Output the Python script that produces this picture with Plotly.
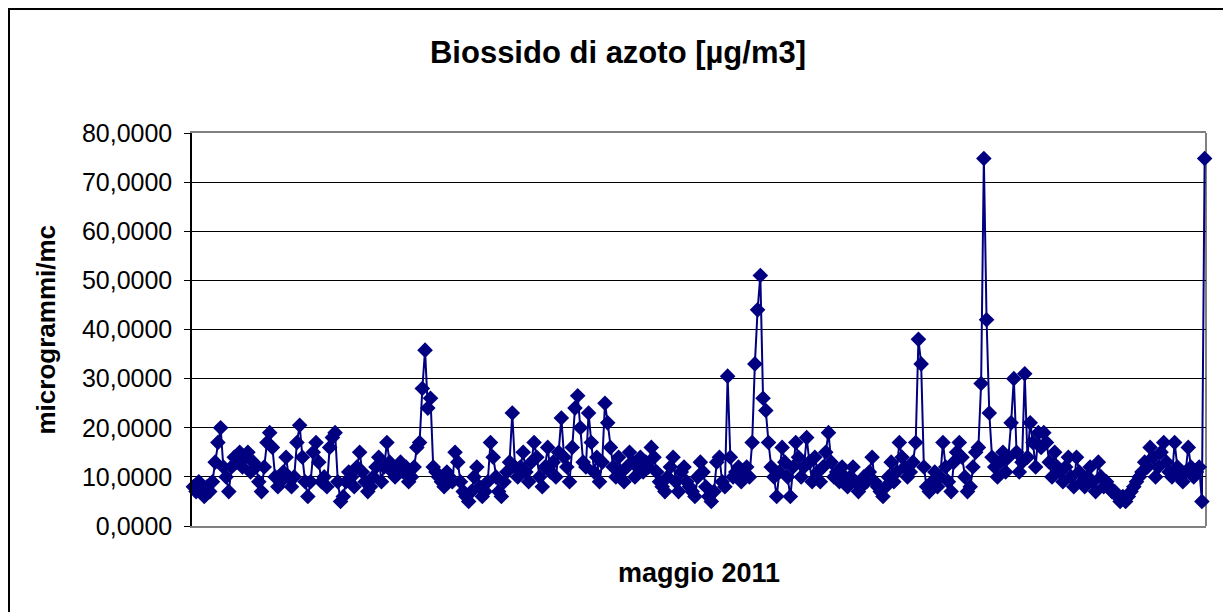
import plotly.graph_objects as go

# NO2 readings, May 2011 (every 2 hours)
week1 = [8, 7, 9, 7, 6, 8, 7, 9, 13, 17, 20, 12,
         10, 7, 12, 14, 13, 15, 12, 14, 15, 11, 13, 12,
         9, 7, 12, 17, 19, 16, 10, 8, 9, 11, 14, 10,
         8, 10, 17, 20.5, 14, 9, 6, 9, 15, 17, 13, 9,
         10, 8, 16, 18, 19, 9, 5, 6, 9, 11, 10, 8,
         12, 15, 11, 9, 7, 8, 10, 12, 14, 9, 12, 17,
         13, 11, 10, 12, 13, 11, 12, 9, 10, 12, 16, 17]
week2 = [28, 35.8, 24, 26, 12, 11, 10, 9, 8, 11, 10, 9,
         15, 13, 9, 7, 6, 5, 7, 10, 12, 8, 6, 7,
         9, 17, 14, 10, 7, 6, 9, 11, 13, 23, 12, 10,
         12, 15, 11, 9, 13, 17, 14, 10, 8, 12, 16, 11,
         13, 10, 15, 22, 14, 12, 9, 16, 24, 26.5, 20, 13,
         12, 23, 17, 11, 14, 9, 13, 25, 21, 16, 12, 10,
         14, 11, 9, 12, 15, 13, 10, 12, 14, 11, 13, 12]
week3 = [16, 14, 11, 9, 8, 7, 10, 12, 14, 9, 7, 11,
         12, 9, 8, 7, 6, 10, 13, 11, 8, 6, 5, 7,
         13, 14, 9, 8, 30.5, 14, 10, 11, 12, 9, 10, 12,
         10, 17, 33, 44, 51, 26, 23.5, 17, 12, 10, 6, 11,
         16, 13, 10, 6, 12, 17, 14, 10, 12, 18, 13, 9,
         14, 11, 9, 12, 15, 19, 13, 10, 11, 9, 12, 10,
         8, 10, 12, 9, 7, 8, 10, 9, 11, 14, 9, 8]
week4 = [7, 6, 8, 10, 13, 9, 11, 17, 14, 12, 10, 11,
         13, 17, 38, 33, 12, 8, 7, 9, 11, 8, 10, 17,
         12, 9, 7, 13, 15, 17, 14, 10, 7, 8, 12, 15,
         16, 29, 74.8, 42, 23, 14, 12, 10, 13, 15, 11, 14,
         21, 30, 15, 11, 13, 31, 14, 21, 17, 12, 19, 16,
         19, 17, 13, 10, 15, 12, 11, 9, 12, 14, 10, 8,
         14, 11, 9, 8, 10, 12, 9, 7, 13, 10, 8, 9]
week5 = [8, 7, 7, 6, 5, 6, 5, 6, 7, 8, 9, 10,
         11, 13, 12, 16, 14, 10, 12, 15, 17, 13, 11, 10,
         17, 12, 10, 9, 11, 16, 12, 10, 11, 12, 5, 74.8]

values = week1 + week2 + week3 + week4 + week5
hours = list(range(len(values)))

title_text = "Biossido di azoto [µg/m3]"
y_title = "microgrammi/mc"
x_title = "maggio 2011"
navy = "#000080"

W, H = 1223, 612
L, R, T, B = 192, 1206, 133, 526
pw, ph = R - L, B - T

fig = go.Figure()
fig.add_trace(go.Scatter(
    x=hours, y=values, mode="lines+markers",
    line=dict(color=navy, width=2),
    marker=dict(symbol="diamond", size=12, color=navy),
    cliponaxis=False, showlegend=False,
))

font_family = "Liberation Sans, Arial, sans-serif"

fig.update_layout(
    width=W, height=H,
    margin=dict(l=L, r=W - R, t=T, b=H - B, autoexpand=False),
    paper_bgcolor="white", plot_bgcolor="white",
    separators=",.",
    font=dict(family=font_family, color="black", size=18),
    title=dict(text=f"<b>{title_text}</b>", x=618 / W, xref="container",
               xanchor="center", y=1 - 52 / H, yref="container", yanchor="middle",
               font=dict(size=31, family=font_family)),
    xaxis=dict(range=[-0.5, len(values) - 0.5], showticklabels=False, ticks="",
               showgrid=False, zeroline=False, showline=True, linecolor="#808080",
               linewidth=2, mirror=True),
    yaxis=dict(range=[0, 80], dtick=10, tickformat=".4f", ticks="outside", ticklen=6,
               tickcolor="black", showline=True, linecolor="black", linewidth=1.5,
               showgrid=True, gridcolor="black", gridwidth=1, zeroline=False,
               ticklabelstandoff=7, automargin=False,
               tickfont=dict(size=25)),
    annotations=[
        dict(text=f"<b>{x_title}</b>", xref="paper", yref="paper",
             x=0.5, y=-(573 - B) / ph, xanchor="center", yanchor="middle",
             showarrow=False, font=dict(size=27)),
        dict(text=f"<b>{y_title}</b>", xref="paper", yref="paper",
             x=-(L - 45) / pw, y=0.5, xanchor="center", yanchor="middle",
             textangle=-90, showarrow=False, font=dict(size=26)),
    ],
    shapes=[
        dict(type="rect", xref="paper", yref="paper", x0=-(L - 9) / pw, x1=1.05,
             y0=-0.3, y1=1 + (T - 9) / ph, line=dict(color="black", width=2),
             fillcolor="rgba(0,0,0,0)", layer="below"),
        dict(type="line", xref="paper", yref="paper", x0=1, x1=1, y0=0, y1=1,
             line=dict(color="#808080", width=2), layer="below"),
    ],
)

fig.write_html("out.html", config={"displayModeBar": False},
               post_script="document.body.style.margin='0';")
